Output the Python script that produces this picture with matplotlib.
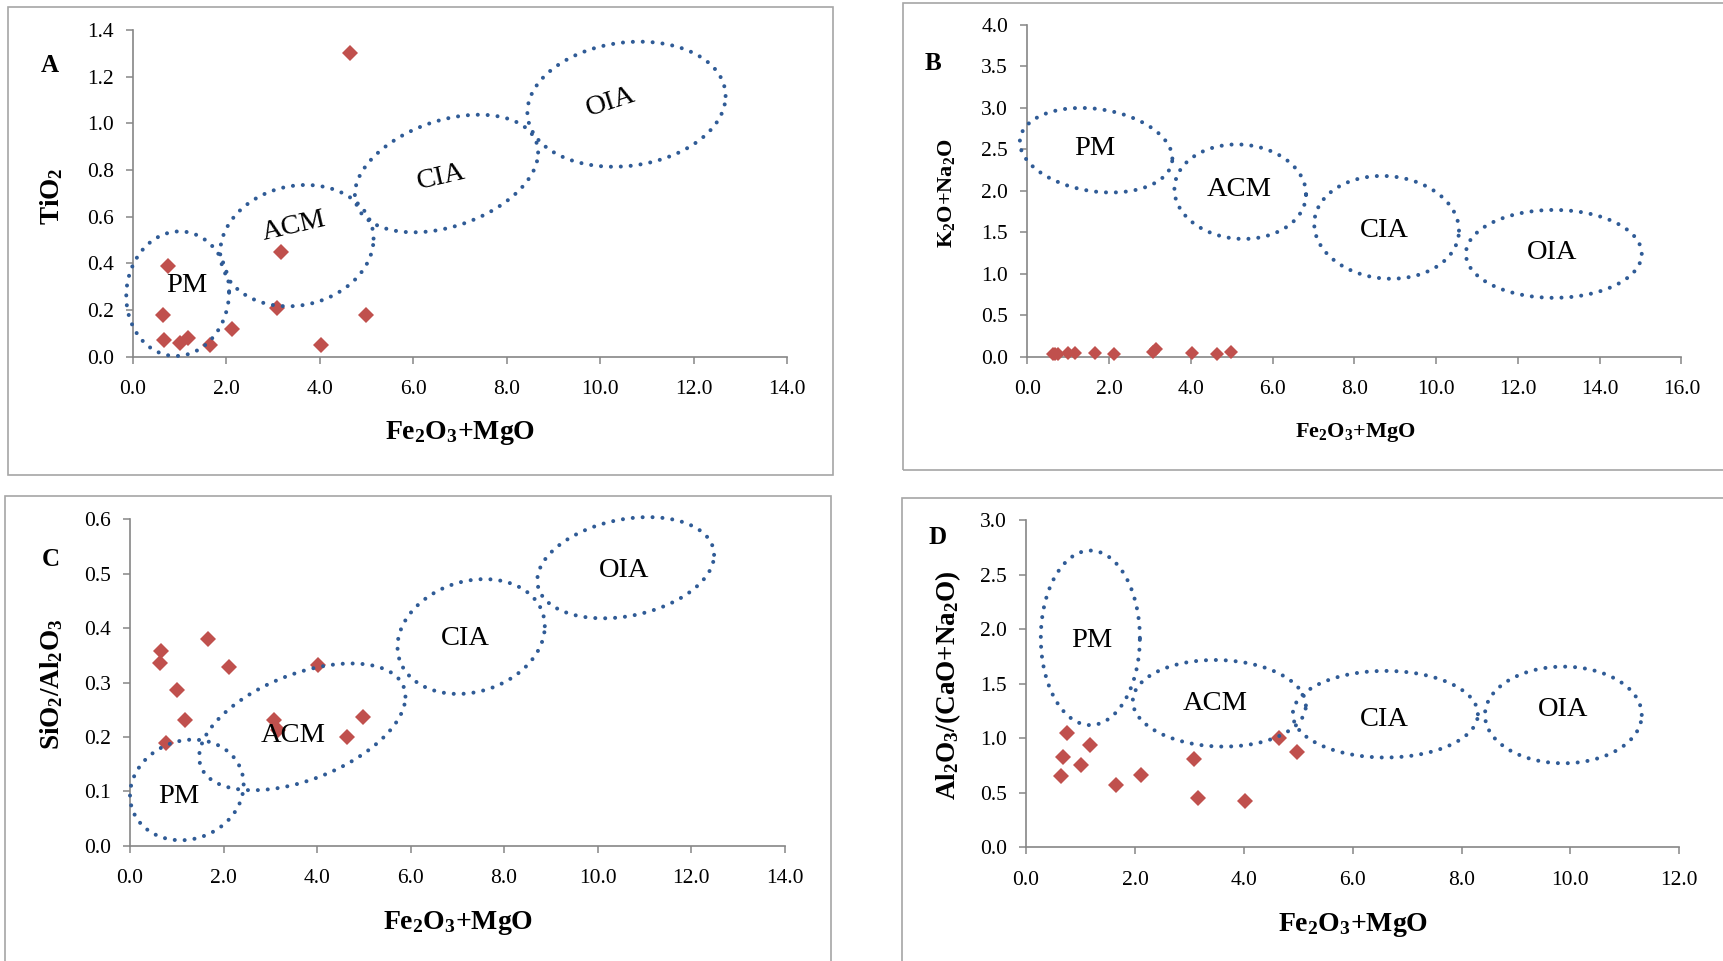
import numpy as np
import matplotlib.pyplot as plt
from matplotlib.patches import Rectangle

plt.rcParams['font.family'] = ['Liberation Serif', 'DejaVu Serif']
plt.rcParams['mathtext.fontset'] = 'custom'
plt.rcParams['mathtext.rm'] = 'Liberation Serif'
plt.rcParams['mathtext.it'] = 'Liberation Serif:italic'
plt.rcParams['mathtext.bf'] = 'Liberation Serif:bold'

W, H = 1724, 961

# sample values (wt%)
fe2o3_mgo = [0.64, 0.67, 0.76, 1.01, 1.18, 1.66, 2.12, 3.08, 3.16, 4.03, 4.65, 4.98]
tio2 = [0.18, 0.07, 0.39, 0.06, 0.08, 0.05, 0.12, 0.21, 0.45, 0.05, 1.30, 0.18]
k2o_na2o = [0.03, 0.03, 0.03, 0.04, 0.04, 0.04, 0.03, 0.06, 0.09, 0.05, 0.03, 0.06]
sio2_al2o3 = [0.335, 0.357, 0.188, 0.287, 0.231, 0.380, 0.329, 0.231, 0.213, 0.332, 0.200, 0.237]
al2o3_cao_na2o = [0.65, 0.83, 1.05, 0.75, 0.94, 0.57, 0.66, 0.81, 0.45, 0.42, 1.00, 0.87]

settings = ['PM', 'ACM', 'CIA', 'OIA']

# tectonic fields: centre x, centre y, half width, half height, y shift at the right end
fields_a = [(0.96, 0.27, 1.10, 0.267, 0.01), (3.51, 0.476, 1.64, 0.26, 0.03),
            (6.71, 0.785, 1.96, 0.252, 0.09), (10.56, 1.082, 2.12, 0.268, 0.035)]
fields_b = [(1.685, 2.49, 1.865, 0.51, -0.10), (5.21, 1.99, 1.61, 0.57, -0.03),
            (8.79, 1.56, 1.77, 0.62, -0.04), (12.88, 1.24, 2.15, 0.53, 0.0)]
fields_c = [(1.215, 0.1025, 1.215, 0.0925, 0.01), (3.685, 0.2185, 2.205, 0.1165, 0.0555),
            (7.295, 0.3845, 1.575, 0.1055, 0.019), (10.6, 0.511, 1.89, 0.093, 0.0236)]
fields_d = [(1.18, 1.92, 0.91, 0.80, 0.0), (3.55, 1.32, 1.59, 0.397, -0.02),
            (6.6, 1.22, 1.70, 0.397, 0.0), (9.87, 1.213, 1.44, 0.443, 0.0)]

# field label positions (x, y, rotation)
labels_a = [(1.15, 0.307, 0), (3.44, 0.557, 13), (6.59, 0.771, 13), (10.22, 1.093, 18)]
labels_b = [(1.65, 2.51, 0), (5.18, 2.02, 0), (8.74, 1.52, 0), (12.83, 1.26, 0)]
labels_c = [(1.05, 0.09, 0), (3.49, 0.203, 0), (7.18, 0.38, 0), (10.56, 0.505, 0)]
labels_d = [(1.21, 1.894, 0), (3.48, 1.32, 0), (6.58, 1.173, 0), (9.87, 1.265, 0)]

RED = '#C0504D'
BLUE = '#2F5B96'
GREY = '#868686'


def ellipse_xy(cx, cy, a, h, shift, n=400):
    t = np.linspace(0, 2 * np.pi, n)
    d = np.sqrt(h ** 2 - shift ** 2)
    return cx + a * np.cos(t), cy + shift * np.cos(t) + d * np.sin(t)


def px_box(left, top, right, bottom):
    return [left / W, 1 - bottom / H, (right - left) / W, (bottom - top) / H]


fig = plt.figure(figsize=(W / 100, H / 100), dpi=100)

# panel frames
for (l, t, r, b) in [(8, 7, 833, 475), (903, 3, 1740, 470), (5, 496, 831, 980), (902, 498, 1740, 980)]:
    fig.patches.append(Rectangle((l / W, 1 - b / H), (r - l) / W, (b - t) / H, transform=fig.transFigure,
                                 fill=False, edgecolor='#A6A6A6', linewidth=1.2))

panels = [
    dict(box=(132.8, 30, 787.3, 356.7), y=tio2, fields=fields_a, labels=labels_a,
         xlim=14, xstep=2, ylim=1.4, ystep=0.2, ms=8.6,
         ylabel=r'TiO$_\mathbf{2}$', yls=19.5, xls=20, ylab_px=(52, 196), xlab_px=(460, 433),
         letter='A', letter_px=(50, 65)),
    dict(box=(1027.2, 25, 1681.4, 356.7), y=k2o_na2o, fields=fields_b, labels=labels_b,
         xlim=16, xstep=2, ylim=4.0, ystep=0.5, ms=7.2,
         ylabel=r'K$_\mathbf{2}$O+Na$_\mathbf{2}$O', yls=16, xls=16, ylab_px=(947, 193), xlab_px=(1355, 432),
         letter='B', letter_px=(933, 63)),
    dict(box=(130, 519.3, 784.7, 845.7), y=sio2_al2o3, fields=fields_c, labels=labels_c,
         xlim=14, xstep=2, ylim=0.6, ystep=0.1, ms=8.6,
         ylabel=r'SiO$_\mathbf{2}$/Al$_\mathbf{2}$O$_\mathbf{3}$', yls=19.5, xls=20, ylab_px=(52, 684),
         xlab_px=(458, 923), letter='C', letter_px=(51, 560)),
    dict(box=(1026.1, 520, 1679.3, 847.3), y=al2o3_cao_na2o, fields=fields_d, labels=labels_d,
         xlim=12, xstep=2, ylim=3.0, ystep=0.5, ms=8.6,
         ylabel=r'Al$_\mathbf{2}$O$_\mathbf{3}$/(CaO+Na$_\mathbf{2}$O)', yls=19.5, xls=20, ylab_px=(948, 685),
         xlab_px=(1353, 925), letter='D', letter_px=(938, 537)),
]

for p in panels:
    ax = fig.add_axes(px_box(*p['box']))
    ax.plot(fe2o3_mgo, p['y'], linestyle='none', marker='D', markersize=p['ms'],
            color=RED, markeredgewidth=0, zorder=3, clip_on=False)
    for (cx, cy, a, h, s) in p['fields']:
        ex, ey = ellipse_xy(cx, cy, a, h, s)
        ax.plot(ex, ey, color=BLUE, linewidth=2.9, linestyle=(0, (0.01, 2.45)),
                dash_capstyle='round', zorder=4, clip_on=False)
    for name, (lx, ly, rot) in zip(settings, p['labels']):
        ax.text(lx, ly, name, fontsize=20.5, ha='center', va='center', rotation=rot,
                rotation_mode='anchor', zorder=5)

    ax.set_xlim(0, p['xlim'])
    ax.set_ylim(0, p['ylim'])
    ax.set_xticks(np.arange(0, p['xlim'] + 0.01, p['xstep']))
    ax.set_yticks(np.arange(0, p['ylim'] + 0.001, p['ystep']))
    ax.xaxis.set_major_formatter('{x:.1f}')
    ax.yaxis.set_major_formatter('{x:.1f}')
    for side in ['top', 'right']:
        ax.spines[side].set_visible(False)
    for side in ['left', 'bottom']:
        ax.spines[side].set_color(GREY)
        ax.spines[side].set_linewidth(1.2)
    ax.tick_params(direction='out', length=4.8, width=1.1, color=GREY, labelsize=15.5)
    ax.tick_params(axis='x', pad=12)
    ax.tick_params(axis='y', pad=9)
    ax.patch.set_alpha(0)

    fig.text(p['ylab_px'][0] / W, 1 - p['ylab_px'][1] / H, p['ylabel'], rotation=90,
             fontsize=p['yls'], fontweight='bold', ha='center', va='center')
    fig.text(p['xlab_px'][0] / W, 1 - p['xlab_px'][1] / H, r'Fe$_\mathbf{2}$O$_\mathbf{3}$+MgO',
             fontsize=p['xls'], fontweight='bold', ha='center', va='center')
    fig.text(p['letter_px'][0] / W, 1 - p['letter_px'][1] / H, p['letter'],
             fontsize=18, fontweight='bold', ha='center', va='center')

fig.savefig('out.png', dpi=100)
